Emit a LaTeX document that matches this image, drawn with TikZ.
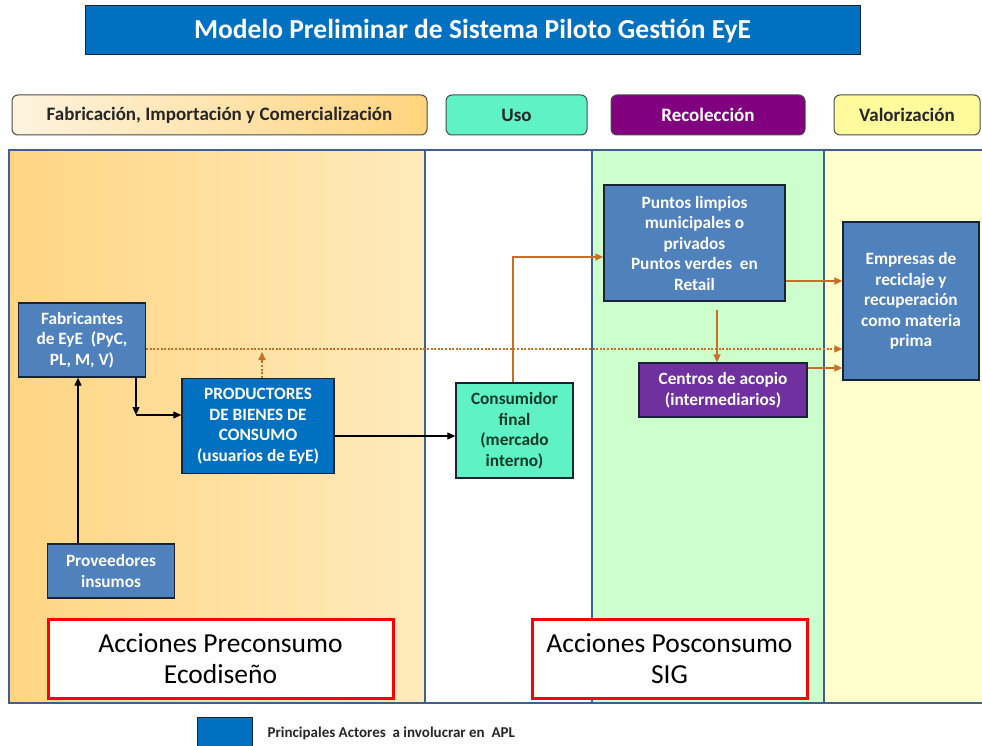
\documentclass[tikz,border=0pt]{standalone}
\usepackage{fontspec}
\setmainfont{Carlito}
\usetikzlibrary{arrows.meta,positioning,calc}

\definecolor{steel}{RGB}{79,129,189}
\definecolor{royal}{RGB}{0,112,192}
\definecolor{aqua}{RGB}{94,242,196}
\definecolor{plum}{RGB}{128,0,128}
\definecolor{grape}{RGB}{112,48,160}
\definecolor{lemon}{RGB}{255,250,155}
\definecolor{mint}{RGB}{204,255,204}
\definecolor{cream}{RGB}{255,255,204}
\definecolor{rim}{RGB}{63,95,143}
\definecolor{rust}{RGB}{200,110,40}
\definecolor{ink}{RGB}{25,35,55}
\definecolor{leaf}{RGB}{12,60,40}

\begin{document}
\begin{tikzpicture}[
x=1pt, y=-1pt,
actor/.style={draw=ink, line width=1.3pt, fill=steel, text=white, align=center, inner sep=0pt,
  font=\bfseries\fontsize{17.3}{20.5}\selectfont},
head/.style={draw=black!70, line width=1pt, rounded corners=6pt, minimum height=40pt, inner sep=0pt,
  font=\bfseries\fontsize{19}{22}\selectfont},
actions/.style={draw=red, line width=3pt, fill=white, align=center, inner sep=0pt,
  font=\fontsize{27.5}{31}\selectfont},
arr/.style={-{Triangle[length=8pt,width=7pt]}, line width=1.1pt},
oarr/.style={arr, color=rust, line width=1.6pt},
dots/.style={oarr, dash pattern=on 2pt off 1.6pt},
]
\useasboundingbox (0,0) rectangle (982,746);
\fill[white] (0,0) rectangle (982,746);

% title
\node[fill=royal, draw=ink, line width=1pt, minimum width=775pt, minimum height=49pt, text=white,
  font=\bfseries\fontsize{27.5}{30}\selectfont] (title) at (472.5,30.5) {Modelo Preliminar de Sistema Piloto Gesti\'on EyE};

% stage headers
\node[head, left color={rgb,255:red,253;green,243;blue,222}, right color={rgb,255:red,255;green,212;blue,125},
  minimum width=415pt, text=black!85] (hfab) at (219.5,115) {Fabricaci\'on, Importaci\'on y Comercializaci\'on};
\node[head, fill=aqua, minimum width=141pt, text=black!85] (huso) at (516.5,115) {Uso};
\node[head, fill=plum, minimum width=194pt, text=white] (hrec) at (708,115) {Recolecci\'on};
\node[head, fill=lemon, minimum width=146pt, text=black!85] (hval) at (907,115) {Valorizaci\'on};

% zones
\fill[left color={rgb,255:red,255;green,213;blue,130}, right color={rgb,255:red,255;green,234;blue,188}] (9,150) rectangle (425,703);
\fill[mint] (592,150) rectangle (824,703);
\fill[cream] (824,150) rectangle (995,703);
\draw[rim, line width=2.4pt] (9,150) rectangle (995,703);
\draw[rim, line width=2.4pt] (425,150) -- (425,703);
\draw[rim, line width=2.4pt] (592,150) -- (592,703);
\draw[rim, line width=2.4pt] (824,150) -- (824,703);

% actors
\node[actor, minimum width=127pt, minimum height=74pt] (fab) at (82,340) {Fabricantes\\de EyE\ \ (PyC,\\PL, M, V)};
\node[actor, fill=royal, minimum width=152pt, minimum height=95pt] (prod) at (258,426) {PRODUCTORES\\DE BIENES DE\\CONSUMO\\(usuarios de EyE)};
\node[actor, minimum width=127pt, minimum height=54pt] (prov) at (111,571) {Proveedores\\insumos};
\node[actor, fill=aqua, text=leaf, minimum width=117pt, minimum height=95pt] (cons) at (514.5,430.5) {Consumidor\\final\\(mercado\\interno)};
\node[actor, minimum width=181pt, minimum height=116pt] (pl) at (694.5,243) {Puntos limpios\\municipales o\\privados\\Puntos verdes\ \ en\\Retail};
\node[actor, fill=grape, minimum width=168pt, minimum height=54pt] (cen) at (723,390) {Centros de acopio\\(intermediarios)};
\node[actor, minimum width=136pt, minimum height=158pt] (emp) at (911,301) {Empresas de\\reciclaje y\\recuperaci\'on\\como materia\\prima};

% actions
\node[actions, minimum width=345pt, minimum height=79pt] (pre) at (220.5,658.5) {Acciones Preconsumo\\Ecodise\~no};
\node[actions, minimum width=275pt, minimum height=79pt] (pos) at (669.5,658.5) {Acciones Posconsumo\\SIG};

% legend
\node[fill=royal, draw=ink, line width=0.8pt, minimum width=55pt, minimum height=40pt, inner sep=0pt] (key) at (224.5,737) {};
\node[right=15pt of key, anchor=west, inner sep=0pt, yshift=4pt, font=\bfseries\fontsize{15}{18}\selectfont, text=black!85] (keytxt) {Principales Actores\ \ a involucrar en\ \ APL};

% connectors
\coordinate (feed) at (78,0);
\coordinate (bend) at (136,415);
\coordinate (tick) at (262,352);
\coordinate (yD) at (0,349);
\coordinate (yB) at (0,436);
\coordinate (up) at (513,257);
\coordinate (yA) at (0,281);
\coordinate (drop) at (717,310);
\coordinate (yC) at (0,368);

\draw[arr] (prov.north -| feed) -- (fab.south -| feed);
\draw[arr] (fab.south -| bend) -- (bend);
\draw[arr] (bend) -- (bend -| prod.west);
\draw[arr] (prod.east |- yB) -- (cons.west |- yB);
\draw[dots] (fab.east |- yD) -- (emp.west |- yD);
\draw[dots] (prod.north -| tick) -- (tick);
\draw[oarr] (cons.north -| up) -- (up) -- (up -| pl.west);
\draw[oarr] (pl.east |- yA) -- (emp.west |- yA);
\draw[oarr] (drop) -- (drop |- cen.north);
\draw[oarr] (cen.east |- yC) -- (emp.west |- yC);
\end{tikzpicture}
\end{document}
